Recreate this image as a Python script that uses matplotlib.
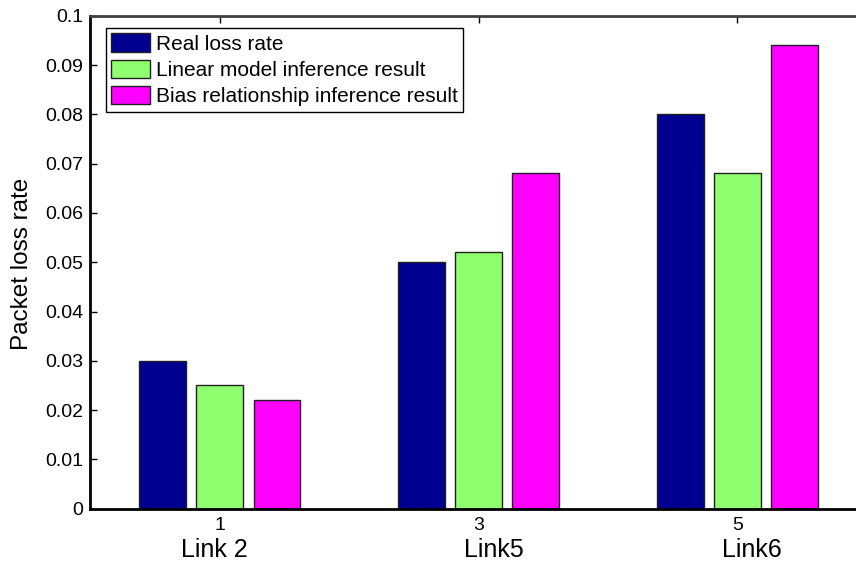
import matplotlib
matplotlib.use("Agg")
import matplotlib.pyplot as plt
import numpy as np

plt.rcParams['font.family'] = ['Liberation Sans', 'DejaVu Sans']

# Data
positions = [1, 3, 5]
links = ["Link 2", "Link5", "Link6"]
series_names = ["Real loss rate",
                "Linear model inference result",
                "Bias relationship inference result"]
real_loss = [0.030, 0.050, 0.080]
linear_model = [0.025, 0.052, 0.068]
bias_relation = [0.022, 0.068, 0.094]
y_ticks = [0, 0.01, 0.02, 0.03, 0.04, 0.05, 0.06, 0.07, 0.08, 0.09, 0.1]
y_tick_labels = ["0", "0.01", "0.02", "0.03", "0.04", "0.05",
                 "0.06", "0.07", "0.08", "0.09", "0.1"]

colors = ["#000090", "#8FFF70", "#FF00FF"]

fig = plt.figure(figsize=(8.56, 5.62), dpi=100)
ax = fig.add_axes([0.1057, 0.0948, 0.907, 0.8772])

x = np.array(positions, dtype=float)
offset = 0.442
width = 0.362
for i, (vals, name, col) in enumerate(zip([real_loss, linear_model, bias_relation],
                                          series_names, colors)):
    ax.bar(x + (i - 1) * offset, vals, width=width, color=col,
           edgecolor="#202020", linewidth=1.0, label=name, zorder=2)

ax.set_xlim(0, 6)
ax.set_ylim(0, 0.1)
ax.set_xticks(positions)
ax.set_xticklabels([str(p) for p in positions])
ax.set_yticks(y_ticks)
ax.set_yticklabels(y_tick_labels)

ax.tick_params(direction="in", length=5, width=1, top=True, right=True,
               labelsize=14, pad=5, colors="#000000")
ax.tick_params(axis="x", pad=6)
for side in ["left", "bottom"]:
    ax.spines[side].set_linewidth(2)
    ax.spines[side].set_color("#000000")
for side in ["top", "right"]:
    ax.spines[side].set_linewidth(2)
    ax.spines[side].set_color("#404040")

# Category names beneath the numeric ticks
label_x = [0.96, 3.12, 5.11]
for lx, name in zip(label_x, links):
    ax.annotate(name, xy=(lx, 0), xycoords=("data", "axes fraction"),
                xytext=(0, -35), textcoords="offset points",
                ha="center", va="baseline", fontsize=18)

fig.text(22 / 856, 1 - 263.5 / 562, "Packet loss rate", rotation=90,
         ha="center", va="center", fontsize=17.5)

leg = ax.legend(loc="upper left", bbox_to_anchor=(0.0196, 0.975),
                borderaxespad=0, fontsize=15, fancybox=False,
                edgecolor="black", framealpha=1, handlelength=1.9,
                handleheight=1.0, handletextpad=0.25, labelspacing=0.28,
                borderpad=0.25)
leg.get_frame().set_linewidth(1.0)

fig.savefig("out.png", dpi=100)
